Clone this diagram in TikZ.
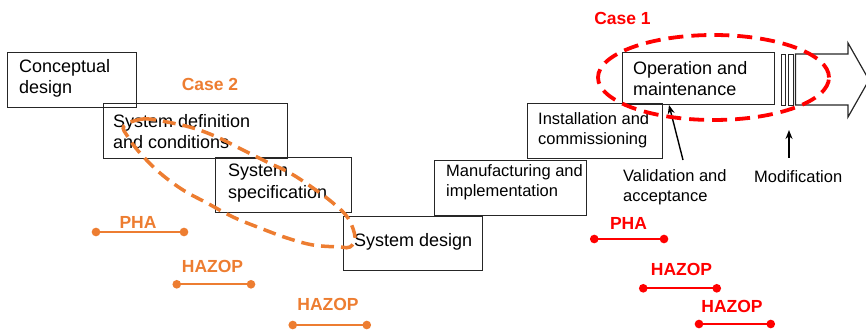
\documentclass[tikz,border=0pt]{standalone}
\usepackage{fontspec}
\setmainfont{Liberation Sans}
\usetikzlibrary{arrows.meta}
\definecolor{corange}{HTML}{ED7D31}
\definecolor{cred}{HTML}{FF0000}
\begin{document}
\begin{tikzpicture}[x=1pt,y=-1pt,
  box/.style={draw=black!85,line width=1.2pt,inner sep=0pt,anchor=north west},
  bigtxt/.style={inner sep=0pt,anchor=north west,align=left,font=\fontsize{18}{21.5}\selectfont},
  smalltxt/.style={inner sep=0pt,anchor=north west,align=left,font=\fontsize{16.5}{20}\selectfont},
  olabel/.style={inner sep=0pt,text=corange,font=\fontsize{17.5}{20}\selectfont\bfseries},
  rlabel/.style={inner sep=0pt,text=cred,font=\fontsize{17.5}{20}\selectfont\bfseries},
  oline/.style={draw=corange,line width=2pt,{Circle[length=8.5pt]}-{Circle[length=8.5pt]}},
  rline/.style={draw=cred,line width=2pt,{Circle[length=8.5pt]}-{Circle[length=8.5pt]}},
  pointer/.style={draw=black,line width=1.4pt,-{Stealth[length=9pt,width=7pt]}},
]
\useasboundingbox (0,0) rectangle (866,331);

% boxes
\node[box,minimum width=129pt,minimum height=55pt] (b1) at (7,52) {};
\node[box,minimum width=184pt,minimum height=55pt] (b2) at (103,103) {};
\node[box,minimum width=136pt,minimum height=55pt] (b3) at (215,157) {};
\node[box,minimum width=139pt,minimum height=54pt] (b4) at (343,216) {};
\node[box,minimum width=152pt,minimum height=55pt] (b5) at (434,160) {};
\node[box,minimum width=135pt,minimum height=55pt] (b6) at (527,103) {};
\node[box,minimum width=152pt,minimum height=52pt] (b7) at (622,52) {};

% bars
\node[box,minimum width=4pt,minimum height=51pt,line width=1.1pt] (bar1) at (781,54) {};
\node[box,minimum width=5pt,minimum height=51pt,line width=1.1pt] (bar2) at (787.5,54) {};

% big arrow
\coordinate (a0) at (795.5,54);
\coordinate (a1) at (848,54);
\coordinate (a2) at (848,43);
\coordinate (a3) at (869,80);
\coordinate (a4) at (848,117);
\coordinate (a5) at (848,105);
\coordinate (a6) at (795.5,105);
\draw[draw=black!85,line width=1.2pt,line join=miter] (a0) -- (a1) -- (a2) -- (a3) -- (a4) -- (a5) -- (a6) -- cycle;

% texts
\node[bigtxt] (t1) at (19,59) {Conceptual\\design};
\node[bigtxt] (t2) at (113,114) {System definition\\and conditions};
\node[bigtxt] (t3) at (228,164) {System\\specification};
\node[bigtxt] (t4) at (354,233) {System design};
\node[smalltxt] (t5) at (446,164) {Manufacturing and\\implementation};
\node[smalltxt] (t6) at (538,112) {Installation and\\commissioning};
\node[bigtxt] (t7) at (633,61) {Operation and\\maintenance};
\node[smalltxt] (t8) at (623,169) {Validation and\\acceptance};
\node[smalltxt] (t9) at (754,170) {Modification};

% pointers
\coordinate (v0) at (683,160);
\coordinate (v1) at (669,105);
\draw[pointer] (v0) -- (v1);
\coordinate (m0) at (789,158);
\coordinate (m1) at (789,130);
\draw[pointer] (m0) -- (m1);

% case labels
\node[olabel] (c2) at (210,84) {Case 2};
\node[rlabel] (c1) at (622.5,18.5) {Case 1};

% orange dashed loop
\draw[corange,line width=3.5pt,dash pattern=on 13pt off 7pt] plot[smooth cycle,tension=0.6] coordinates {
 (124,126) (143,119) (167,122) (193,128) (217,137) (243,150) (267,162) (290,173)
 (313,188) (333,203) (348,218) (355,237) (350,247) (340,247) (313,245) (287,238)
 (260,228) (233,217) (207,203) (183,190) (160,173) (140,153) (128,137)};

% red dashed ellipse
\coordinate (ec) at (713.5,77.5);
\draw[cred,line width=3.8pt,dash pattern=on 15pt off 8pt] (ec) ellipse [x radius=115.5pt, y radius=42.5pt];

% orange phases
\node[olabel] (op1) at (138,222) {PHA};
\coordinate (op1a) at (91.75,232);
\coordinate (op1b) at (188.25,232);
\draw[oline] (op1a) -- (op1b);
\node[olabel] (op2) at (212.5,266) {HAZOP};
\coordinate (op2a) at (172.5,284.3);
\coordinate (op2b) at (255.25,284.3);
\draw[oline] (op2a) -- (op2b);
\node[olabel] (op3) at (328,304.5) {HAZOP};
\coordinate (op3a) at (288.5,325);
\coordinate (op3b) at (371,325);
\draw[oline] (op3a) -- (op3b);

% red phases
\node[rlabel] (rp1) at (628.5,223) {PHA};
\coordinate (rp1a) at (590,239);
\coordinate (rp1b) at (668.25,239);
\draw[rline] (rp1a) -- (rp1b);
\node[rlabel] (rp2) at (681.5,269.5) {HAZOP};
\coordinate (rp2a) at (639,288.3);
\coordinate (rp2b) at (721,288.3);
\draw[rline] (rp2a) -- (rp2b);
\node[rlabel] (rp3) at (732,306.5) {HAZOP};
\coordinate (rp3a) at (694.75,324);
\coordinate (rp3b) at (775,324);
\draw[rline] (rp3a) -- (rp3b);
\end{tikzpicture}
\end{document}
